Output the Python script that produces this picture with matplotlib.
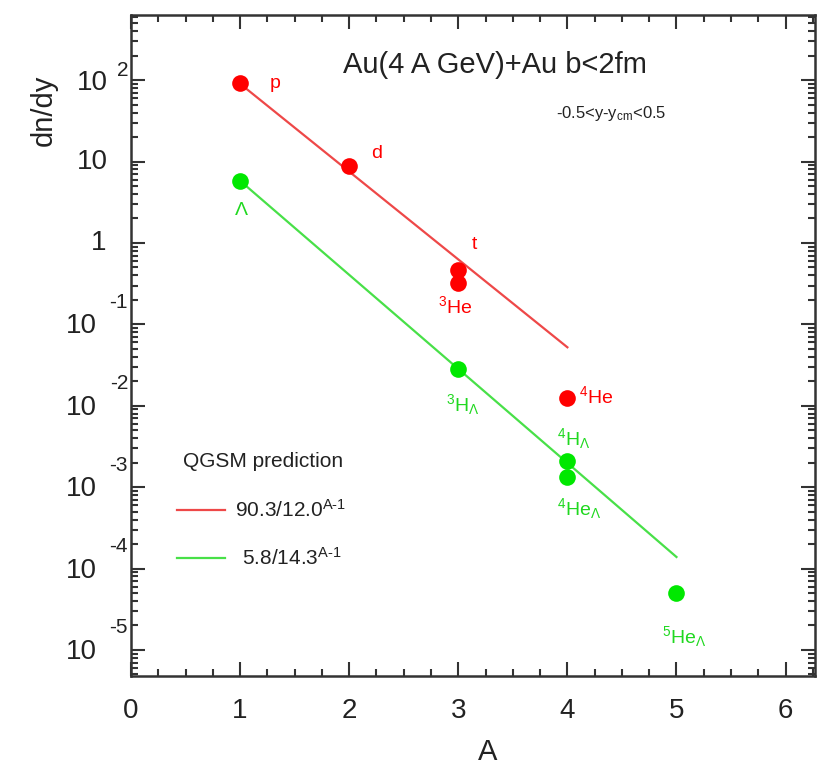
import numpy as np
import matplotlib
matplotlib.use('Agg')
import matplotlib.pyplot as plt
import matplotlib.transforms as mtransforms
from matplotlib.ticker import MultipleLocator, LogLocator, NullFormatter, FixedLocator

plt.rcParams['font.family'] = ['Liberation Sans', 'DejaVu Sans']
plt.rcParams['mathtext.fontset'] = 'custom'
plt.rcParams['mathtext.rm'] = 'Liberation Sans'
plt.rcParams['mathtext.it'] = 'Liberation Sans'
plt.rcParams['mathtext.default'] = 'regular'

nucl_A = [1, 2, 3, 3, 4]
nucl_y = [92.0, 8.7, 0.47, 0.32, 0.0125]
nucl_lab = ['p', 'd', 't', r'$^{3}$He', r'$^{4}$He']

hyp_A = [1, 3, 4, 4, 5]
hyp_y = [5.8, 0.028, 0.0021, 0.00135, 5.0e-5]
hyp_lab = [r'$\Lambda$', r'$^{3}$H$_{\Lambda}$', r'$^{4}$H$_{\Lambda}$',
           r'$^{4}$He$_{\Lambda}$', r'$^{5}$He$_{\Lambda}$']

# QGSM fit parameters: a / b^(A-1), drawn from A_min to A_max
fit_red = (90.3, 12.0, 1, 4)
fit_green = (5.8, 14.3, 1, 5)

ytick_exp = [-5, -4, -3, -2, -1, 0, 1, 2]

RED = '#ff0000'
RED_LINE = '#ee4848'
GREEN = '#00e800'
GREEN_LINE = '#48e048'
GREEN_TXT = '#20d820'
INK = '#222222'

fig = plt.figure(figsize=(8.25, 7.66), dpi=100)
ax = fig.add_axes([0.1588, 0.1175, 0.8291, 0.8629])

A_r = np.linspace(fit_red[2], fit_red[3], 50)
ax.plot(A_r, fit_red[0] / fit_red[1] ** (A_r - 1), color=RED_LINE, lw=1.6)
A_g = np.linspace(fit_green[2], fit_green[3], 50)
ax.plot(A_g, fit_green[0] / fit_green[1] ** (A_g - 1), color=GREEN_LINE, lw=1.6)

ax.plot(nucl_A, nucl_y, 'o', color=RED, ms=12, mec='none')
ax.plot(hyp_A, hyp_y, 'o', color=GREEN, ms=12, mec='none')

ax.set_yscale('log')
ax.set_xlim(0, 6.27)
ax.set_ylim(10 ** -5.32, 10 ** 2.8)

# point labels (offsets in pixels from the marker)
lab_off_r = [(30, 0), (22, 13), (13, 25), (-20, -23), (12, 2)]
for a, y, s, (dx, dy) in zip(nucl_A, nucl_y, nucl_lab, lab_off_r):
    ax.annotate(s, (a, y), xytext=(dx * 0.72, dy * 0.72), textcoords='offset points',
                color=RED, fontsize=14, ha='left', va='center')

lab_off_g = [(-6, -30), (-12, -35), (-10, 22), (-10, -32), (-14, -44)]
for a, y, s, (dx, dy) in zip(hyp_A, hyp_y, hyp_lab, lab_off_g):
    ax.annotate(s, (a, y), xytext=(dx * 0.72, dy * 0.72), textcoords='offset points',
                color=GREEN_TXT, fontsize=14, ha='left', va='center')

# ticks
ax.xaxis.set_major_locator(MultipleLocator(1))
ax.xaxis.set_minor_locator(MultipleLocator(0.25))
ax.yaxis.set_major_locator(FixedLocator([10.0 ** e for e in ytick_exp]))
ax.yaxis.set_minor_locator(LogLocator(base=10, subs=np.arange(2, 10), numticks=20))
ax.yaxis.set_major_formatter(NullFormatter())
ax.yaxis.set_minor_formatter(NullFormatter())
ax.tick_params(which='both', direction='in', top=True, right=True, width=1.5, color='#333333')
ax.tick_params(which='major', length=10, labelsize=20, pad=16)
ax.tick_params(which='minor', length=5)
for sp in ax.spines.values():
    sp.set_linewidth(1.8)
    sp.set_color('#333333')

# y tick labels in the old "10  -n" style
trans = mtransforms.blended_transform_factory(ax.transAxes, ax.transData)
for e in ytick_exp:
    yv = 10.0 ** e
    if e == 0:
        t = mtransforms.offset_copy(trans, fig, x=-25, y=0, units='dots')
        ax.text(0, yv, '1', transform=t, ha='right', va='center', fontsize=20, color=INK)
    elif e == 1:
        t = mtransforms.offset_copy(trans, fig, x=-23, y=0, units='dots')
        ax.text(0, yv, '10', transform=t, ha='right', va='center', fontsize=20, color=INK)
    elif e == 2:
        t = mtransforms.offset_copy(trans, fig, x=-23, y=-3, units='dots')
        ax.text(0, yv, '10', transform=t, ha='right', va='center', fontsize=20, color=INK)
        t2 = mtransforms.offset_copy(trans, fig, x=-3, y=10, units='dots')
        ax.text(0, yv, '2', transform=t2, ha='right', va='center', fontsize=15, color=INK)
    else:
        t = mtransforms.offset_copy(trans, fig, x=-34, y=-2, units='dots')
        ax.text(0, yv, '10', transform=t, ha='right', va='center', fontsize=20, color=INK)
        t2 = mtransforms.offset_copy(trans, fig, x=-3, y=22, units='dots')
        ax.text(0, yv, '-%d' % (-e), transform=t2, ha='right', va='center', fontsize=15, color=INK)

for lab in ax.get_xticklabels():
    lab.set_color(INK)

ax.set_xlabel('A', fontsize=21, color=INK)
ax.xaxis.set_label_coords(0.522, -0.094)
ax.set_ylabel('dn/dy', fontsize=21, color=INK)
ax.yaxis.set_label_coords(-0.107, 0.856)

ax.text(0.31, 0.925, 'Au(4 A GeV)+Au b<2fm', transform=ax.transAxes,
        fontsize=21, color=INK, ha='left', va='center')
ax.text(0.622, 0.851, r'-0.5<y-y$_{cm}$<0.5', transform=ax.transAxes,
        fontsize=12, color=INK, ha='left', va='center')

# legend drawn by hand like the original
ax.text(0.076, 0.324, 'QGSM prediction', transform=ax.transAxes,
        fontsize=15, color=INK, ha='left', va='center')
ax.plot([0.067, 0.137], [0.251, 0.251], transform=ax.transAxes, color=RED_LINE, lw=1.6)
ax.text(0.152, 0.251, r'90.3/12.0$^{\text{A-1}}$', transform=ax.transAxes,
        fontsize=15, color=INK, ha='left', va='center')
ax.plot([0.067, 0.137], [0.179, 0.179], transform=ax.transAxes, color=GREEN_LINE, lw=1.6)
ax.text(0.162, 0.179, r'5.8/14.3$^{\text{A-1}}$', transform=ax.transAxes,
        fontsize=15, color=INK, ha='left', va='center')

fig.savefig('out.png', dpi=100)
